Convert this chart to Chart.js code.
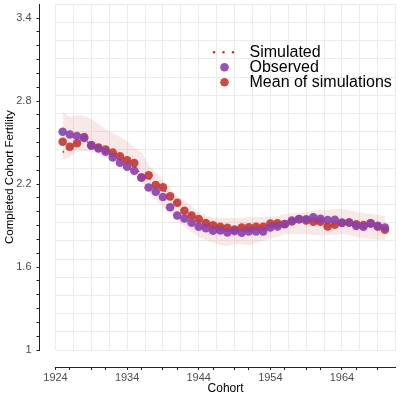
<!DOCTYPE html>
<html>
<head>
<meta charset="utf-8">
<script src="https://cdn.jsdelivr.net/npm/chart.js@4.4.1/dist/chart.umd.min.js"></script>
<style>
  html, body { margin: 0; padding: 0; background: #fff; }
  #wrap { width: 400px; height: 396px; position: relative; }
</style>
</head>
<body>
<div id="wrap"><canvas id="chart"></canvas></div>
<script>
// cohorts (birth years)
const cohorts = [1925, 1926, 1927, 1928, 1929, 1930, 1931, 1932, 1933, 1934,
  1935, 1936, 1937, 1938, 1939, 1940, 1941, 1942, 1943, 1944,
  1945, 1946, 1947, 1948, 1949, 1950, 1951, 1952, 1953, 1954,
  1955, 1956, 1957, 1958, 1959, 1960, 1961, 1962, 1963, 1964,
  1965, 1966, 1967, 1968, 1969, 1970];

const observed = [2.578, 2.558, 2.547, 2.533, 2.480, 2.457, 2.434, 2.393, 2.354, 2.325,
  2.296, 2.247, 2.175, 2.144, 2.106, 2.032, 1.973, 1.951, 1.920, 1.892,
  1.880, 1.863, 1.864, 1.850, 1.860, 1.848, 1.858, 1.858, 1.858, 1.886,
  1.893, 1.909, 1.936, 1.945, 1.946, 1.960, 1.949, 1.940, 1.942, 1.920,
  1.922, 1.897, 1.892, 1.916, 1.899, 1.886];

const meanSim = [2.506, 2.470, 2.495, 2.540, 2.480, 2.464, 2.450, 2.427, 2.401, 2.372,
  2.352, 2.247, 2.263, 2.193, 2.176, 2.111, 2.065, 2.007, 1.973, 1.947,
  1.918, 1.902, 1.891, 1.884, 1.871, 1.886, 1.887, 1.891, 1.891, 1.915,
  1.916, 1.911, 1.929, 1.947, 1.936, 1.928, 1.927, 1.893, 1.906, 1.920,
  1.922, 1.909, 1.904, 1.916, 1.892, 1.870];

const simulated = [2.43, 2.46, 2.50, 2.53, 2.48, 2.46, 2.45, 2.42, 2.40, 2.37,
  2.34, 2.26, 2.25, 2.19, 2.17, 2.10, 2.06, 2.00, 1.97, 1.94,
  1.92, 1.90, 1.89, 1.88, 1.87, 1.88, 1.89, 1.89, 1.89, 1.91,
  1.92, 1.91, 1.93, 1.94, 1.94, 1.93, 1.92, 1.89, 1.91, 1.92,
  1.92, 1.91, 1.90, 1.91, 1.89, 1.87];

// simulation envelope
const simUpper = [2.721, 2.685, 2.699, 2.692, 2.670, 2.634, 2.598, 2.569, 2.540, 2.511,
  2.461, 2.432, 2.338, 2.287, 2.229, 2.171, 2.114, 2.077, 2.041, 1.998,
  1.976, 1.954, 1.954, 1.954, 1.954, 1.954, 1.962, 1.962, 1.962, 1.962,
  1.969, 1.983, 1.991, 1.991, 1.998, 2.005, 2.012, 2.012, 2.020, 2.020,
  2.012, 1.998, 1.991, 1.983, 1.976, 1.969];

const simLower = [2.374, 2.396, 2.432, 2.439, 2.432, 2.417, 2.396, 2.374, 2.345, 2.316,
  2.273, 2.215, 2.150, 2.085, 2.034, 1.991, 1.940, 1.889, 1.853, 1.817,
  1.795, 1.774, 1.759, 1.752, 1.766, 1.766, 1.759, 1.774, 1.788, 1.810,
  1.817, 1.839, 1.839, 1.839, 1.839, 1.832, 1.832, 1.832, 1.832, 1.839,
  1.832, 1.817, 1.810, 1.803, 1.795, 1.795];

// axis ticks
const xTickYears = [1924, 1926, 1929, 1931, 1934, 1936, 1939, 1941, 1944, 1946,
  1949, 1951, 1954, 1956, 1959, 1961, 1964, 1966, 1969];
const xTickLabels = ['1924', '1934', '1944', '1954', '1964'];
const yTickLabels = ['1', '1.6', '2.2', '2.8', '3.4'];

const X_MIN = 1924, X_MAX = 1971.5;
const Y_MIN = 1, Y_MAX = 3.5;

const FONT = "'Liberation Sans', Arial, sans-serif";
const RED = 'rgba(195, 55, 50, 0.9)';
const PURPLE = 'rgba(140, 64, 170, 0.9)';

const pts = (vals) => cohorts.map((c, i) => ({ x: c, y: vals[i] }));

// 20 evenly spaced grid lines over the panel
const gridTicks = (lo, hi) => {
  const out = [];
  for (let i = 0; i <= 19; i++) out.push({ value: lo + (hi - lo) * i / 19 });
  return out;
};

const yMinorTicks = [];
for (let i = 0; i <= 24; i++) yMinorTicks.push({ value: Math.round((1 + i * 0.1) * 10) / 10 });

const noPad = (s) => {
  s.paddingTop = 0; s.paddingBottom = 0; s.paddingLeft = 0; s.paddingRight = 0;
};

// legend drawn inside the panel
const insideLegend = {
  id: 'insideLegend',
  afterDraw(chart) {
    const ctx = chart.ctx;
    const a = chart.chartArea;
    const sx = a.left + 168, tx = a.left + 194;
    const rows = [a.top + 48, a.top + 63, a.top + 78];
    ctx.save();
    // dotted line key
    ctx.fillStyle = 'rgb(200, 40, 40)';
    [-9.5, 0, 9.5].forEach(d => {
      ctx.beginPath();
      ctx.arc(sx + d, rows[0], 1.2, 0, Math.PI * 2);
      ctx.fill();
    });
    ctx.fillStyle = PURPLE;
    ctx.beginPath(); ctx.arc(sx + 1, rows[1], 4.3, 0, Math.PI * 2); ctx.fill();
    ctx.fillStyle = RED;
    ctx.beginPath(); ctx.arc(sx + 1, rows[2], 4.3, 0, Math.PI * 2); ctx.fill();

    ctx.fillStyle = '#000';
    ctx.font = '16px ' + FONT;
    ctx.textBaseline = 'middle';
    ctx.textAlign = 'left';
    ctx.fillText('Simulated', tx, rows[0]);
    ctx.fillText('Observed', tx, rows[1]);
    ctx.fillText('Mean of simulations', tx, rows[2]);
    ctx.restore();
  }
};

const ctx = document.getElementById('chart').getContext('2d');
const chart = new Chart(ctx, {
  type: 'line',
  data: {
    datasets: [
      {
        label: 'Observed',
        data: pts(observed),
        showLine: false,
        pointRadius: 4.3,
        pointBackgroundColor: PURPLE,
        pointBorderWidth: 0,
        order: 0
      },
      {
        label: 'Mean of simulations',
        data: pts(meanSim),
        showLine: false,
        pointRadius: 4.3,
        pointBackgroundColor: RED,
        pointBorderWidth: 0,
        order: 1
      },
      {
        label: 'Simulated',
        data: pts(simulated),
        borderColor: 'rgb(200, 40, 40)',
        borderWidth: 1.5,
        borderDash: [1.5, 3.5],
        pointRadius: 0,
        fill: false,
        order: 2
      },
      {
        label: 'upper',
        data: pts(simUpper),
        borderWidth: 0,
        pointRadius: 0,
        backgroundColor: 'rgba(215, 110, 110, 0.16)',
        fill: '+1',
        order: 3
      },
      {
        label: 'lower',
        data: pts(simLower),
        borderWidth: 0,
        pointRadius: 0,
        fill: false,
        order: 4
      }
    ]
  },
  options: {
    responsive: true,
    maintainAspectRatio: false,
    animation: false,
    devicePixelRatio: 1,
    layout: { padding: { top: 4, right: 1, left: 0, bottom: 0 } },
    plugins: {
      legend: { display: false },
      tooltip: { enabled: false }
    },
    scales: {
      // panel grid only
      x: {
        type: 'linear',
        position: 'bottom',
        weight: 0,
        min: X_MIN,
        max: X_MAX,
        afterBuildTicks: (s) => { s.ticks = gridTicks(X_MIN, X_MAX); },
        afterFit: (s) => { s.height = 17; noPad(s); },
        ticks: { display: false },
        grid: { color: '#ebebeb', lineWidth: 1, drawTicks: false },
        border: { display: false }
      },
      y: {
        type: 'linear',
        position: 'left',
        weight: 0,
        min: Y_MIN,
        max: Y_MAX,
        afterBuildTicks: (s) => { s.ticks = gridTicks(Y_MIN, Y_MAX); },
        afterFit: (s) => { s.width = 16; noPad(s); },
        ticks: { display: false },
        grid: { color: '#ebebeb', lineWidth: 1, drawTicks: false },
        border: { display: false }
      },
      // detached axes
      xAxis: {
        type: 'linear',
        position: 'bottom',
        weight: 1,
        min: X_MIN,
        max: X_MAX,
        afterBuildTicks: (s) => { s.ticks = xTickYears.map(v => ({ value: v })); },
        afterFit: (s) => { s.height = 29; noPad(s); },
        ticks: {
          autoSkip: false,
          maxRotation: 0,
          padding: 1,
          color: '#4d4d4d',
          font: { family: FONT, size: 11 },
          callback: (v) => xTickLabels.includes(String(v)) ? String(v) : ''
        },
        grid: { drawOnChartArea: false, drawTicks: true, tickLength: 3, tickColor: '#222', tickWidth: 1 },
        border: { display: true, color: '#222', width: 1 },
        title: { display: true, text: 'Cohort', color: '#000', font: { family: FONT, size: 12 }, padding: { top: 0, bottom: 0 } }
      },
      yAxis: {
        type: 'linear',
        position: 'left',
        weight: 1,
        min: Y_MIN,
        max: Y_MAX,
        afterBuildTicks: (s) => { s.ticks = yMinorTicks.slice(); },
        afterFit: (s) => { s.width = 39.5; noPad(s); },
        ticks: {
          autoSkip: false,
          padding: 5,
          color: '#4d4d4d',
          font: { family: FONT, size: 11 },
          callback: (v) => yTickLabels.find(l => Math.abs(Number(l) - v) < 1e-6) || ''
        },
        grid: { drawOnChartArea: false, drawTicks: true, tickLength: 3, tickColor: '#222', tickWidth: 1 },
        border: { display: true, color: '#222', width: 1 },
        title: { display: true, text: 'Completed Cohort Fertility', color: '#000', font: { family: FONT, size: 11.5 }, padding: { top: 3, bottom: 0 } }
      }
    }
  },
  plugins: [insideLegend]
});
</script>
</body>
</html>
